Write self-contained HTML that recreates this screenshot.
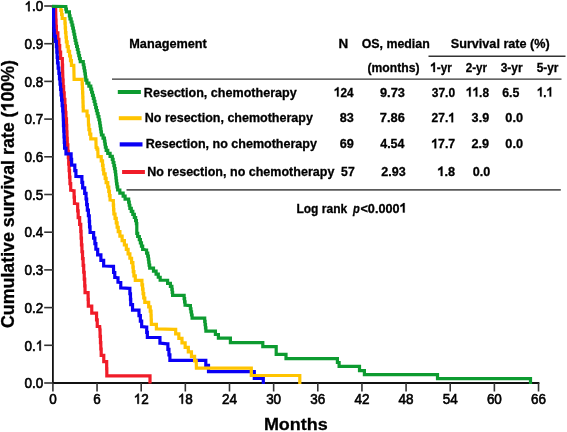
<!DOCTYPE html>
<html><head><meta charset="utf-8"><style>
html,body{margin:0;padding:0;background:#fff;}
svg{display:block;filter:blur(0.35px);}
text{font-family:"Liberation Sans",sans-serif;font-weight:bold;fill:#000;stroke:#000;stroke-width:0.3px;}
text.rg{font-weight:normal;stroke:#000;stroke-width:0.6px;}
</style></head><body>
<svg width="567" height="432" viewBox="0 0 567 432">
<rect width="567" height="432" fill="#fff"/>
<line x1="52.9" y1="5.5" x2="52.9" y2="384" stroke="#111" stroke-width="1.8"/>
<line x1="52" y1="383" x2="539.4" y2="383" stroke="#111" stroke-width="1.8"/>
<line x1="44.2" y1="383.00" x2="53" y2="383.00" stroke="#333" stroke-width="1.6"/>
<line x1="44.2" y1="345.30" x2="53" y2="345.30" stroke="#333" stroke-width="1.6"/>
<line x1="44.2" y1="307.60" x2="53" y2="307.60" stroke="#333" stroke-width="1.6"/>
<line x1="44.2" y1="269.90" x2="53" y2="269.90" stroke="#333" stroke-width="1.6"/>
<line x1="44.2" y1="232.20" x2="53" y2="232.20" stroke="#333" stroke-width="1.6"/>
<line x1="44.2" y1="194.50" x2="53" y2="194.50" stroke="#333" stroke-width="1.6"/>
<line x1="44.2" y1="156.80" x2="53" y2="156.80" stroke="#333" stroke-width="1.6"/>
<line x1="44.2" y1="119.10" x2="53" y2="119.10" stroke="#333" stroke-width="1.6"/>
<line x1="44.2" y1="81.40" x2="53" y2="81.40" stroke="#333" stroke-width="1.6"/>
<line x1="44.2" y1="43.70" x2="53" y2="43.70" stroke="#333" stroke-width="1.6"/>
<line x1="44.2" y1="6.00" x2="53" y2="6.00" stroke="#333" stroke-width="1.6"/>
<line x1="52.90" y1="383" x2="52.90" y2="391.5" stroke="#333" stroke-width="1.6"/>
<line x1="97.05" y1="383" x2="97.05" y2="391.5" stroke="#333" stroke-width="1.6"/>
<line x1="141.20" y1="383" x2="141.20" y2="391.5" stroke="#333" stroke-width="1.6"/>
<line x1="185.34" y1="383" x2="185.34" y2="391.5" stroke="#333" stroke-width="1.6"/>
<line x1="229.49" y1="383" x2="229.49" y2="391.5" stroke="#333" stroke-width="1.6"/>
<line x1="273.64" y1="383" x2="273.64" y2="391.5" stroke="#333" stroke-width="1.6"/>
<line x1="317.79" y1="383" x2="317.79" y2="391.5" stroke="#333" stroke-width="1.6"/>
<line x1="361.94" y1="383" x2="361.94" y2="391.5" stroke="#333" stroke-width="1.6"/>
<line x1="406.08" y1="383" x2="406.08" y2="391.5" stroke="#333" stroke-width="1.6"/>
<line x1="450.23" y1="383" x2="450.23" y2="391.5" stroke="#333" stroke-width="1.6"/>
<line x1="494.38" y1="383" x2="494.38" y2="391.5" stroke="#333" stroke-width="1.6"/>
<line x1="538.53" y1="383" x2="538.53" y2="391.5" stroke="#333" stroke-width="1.6"/>
<line x1="112" y1="79.1" x2="561.5" y2="79.1" stroke="#333" stroke-width="1.4"/>
<line x1="428.5" y1="56.2" x2="565.5" y2="56.2" stroke="#333" stroke-width="1.4"/>
<line x1="126.5" y1="189.9" x2="560.8" y2="189.9" stroke="#5a5a5a" stroke-width="1.7"/>
<rect x="117.8" y="90" width="23.1" height="4" fill="#0d9b30"/>
<rect x="118.8" y="116.2" width="22.8" height="4" fill="#ffc400"/>
<rect x="119.7" y="142.3" width="22.8" height="4.2" fill="#0a00f5"/>
<rect x="122.1" y="170" width="22.8" height="4" fill="#f01c28"/>
<path d="M51.90,6.50 L55.60,6.50 L55.90,20.00 L56.06,20.00 L56.06,26.42 L56.38,26.42 L56.38,32.83 L57.85,32.83 L57.85,39.25 L58.89,39.25 L58.89,45.67 L59.69,45.67 L59.69,52.08 L60.61,52.08 L60.61,58.50 L61.10,58.50 L62.20,58.50 L62.33,58.50 L62.33,65.10 L62.58,65.10 L62.58,71.70 L62.70,71.70 L62.90,80.00 L63.14,80.00 L63.14,86.48 L63.61,86.48 L63.61,92.95 L64.21,92.95 L64.21,99.43 L64.89,99.43 L64.89,105.91 L65.43,105.91 L65.43,112.38 L65.90,112.38 L65.90,118.86 L66.48,118.86 L66.48,125.34 L66.73,125.34 L66.73,131.81 L66.98,131.81 L66.98,138.29 L67.26,138.29 L67.26,144.76 L67.84,144.76 L67.84,151.24 L68.34,151.24 L68.34,157.72 L68.71,157.72 L68.71,164.19 L69.12,164.19 L69.12,170.67 L69.55,170.67 L69.55,177.15 L69.95,177.15 L69.95,183.62 L70.70,183.62 L70.70,190.10 L71.10,190.10 L73.90,190.80 L74.08,190.80 L74.08,197.05 L74.42,197.05 L74.42,203.30 L74.60,203.30 L77.40,204.00 L77.66,204.00 L77.66,210.82 L78.18,210.82 L78.18,217.65 L79.65,217.65 L79.65,224.47 L80.75,224.47 L80.75,231.29 L81.11,231.29 L81.11,238.12 L81.47,238.12 L81.47,244.94 L81.93,244.94 L81.93,251.76 L82.53,251.76 L82.53,258.58 L83.13,258.58 L83.13,265.41 L83.70,265.41 L83.70,272.23 L84.25,272.23 L84.25,279.05 L84.72,279.05 L84.72,285.88 L85.04,285.88 L85.04,292.70 L85.20,292.70 L88.00,292.70 L88.10,292.70 L88.10,299.40 L88.30,299.40 L88.30,306.10 L88.40,306.10 L91.60,306.10 L91.75,306.10 L91.75,313.10 L91.90,313.10 L96.20,313.10 L96.55,313.10 L96.55,319.80 L97.25,319.80 L97.25,326.50 L97.60,326.50 L99.70,326.50 L99.90,330.00 L100.08,330.00 L100.08,336.34 L100.45,336.34 L100.45,342.68 L100.82,342.68 L100.82,349.02 L101.19,349.02 L101.19,355.36 L103.77,355.36 L103.77,361.70 L104.10,361.70 L106.60,361.70 L106.67,361.70 L106.67,368.75 L106.83,368.75 L106.83,375.80 L106.90,375.80 L150.00,375.80 L150.00,383.60" fill="none" stroke="#f01c28" stroke-width="3.2" stroke-linejoin="miter" stroke-linecap="butt"/>
<path d="M51.90,6.50 L53.60,6.50 L53.60,20.00 L53.71,20.00 L53.71,25.35 L53.92,25.35 L53.92,30.69 L54.24,30.69 L54.24,36.04 L55.41,36.04 L55.41,41.39 L56.41,41.39 L56.41,46.74 L56.81,46.74 L56.81,52.08 L57.17,52.08 L57.17,57.43 L57.53,57.43 L57.53,62.78 L58.17,62.78 L58.17,68.12 L58.88,68.12 L58.88,73.47 L59.48,73.47 L59.48,78.82 L60.05,78.82 L60.05,84.16 L60.57,84.16 L60.57,89.51 L61.09,89.51 L61.09,94.86 L61.61,94.86 L61.61,100.21 L62.16,100.21 L62.16,105.55 L62.72,105.55 L62.72,110.90 L63.00,110.90 L63.30,120.00 L63.44,120.00 L63.44,125.63 L63.73,125.63 L63.73,131.26 L64.01,131.26 L64.01,136.89 L64.29,136.89 L64.29,142.52 L64.58,142.52 L64.58,148.15 L65.97,148.15 L65.97,153.78 L71.11,153.78 L71.11,159.41 L71.63,159.41 L71.63,165.04 L74.81,165.04 L74.81,170.67 L75.92,170.67 L75.92,176.30 L76.40,176.30 L81.50,176.70 L81.89,176.70 L81.89,182.28 L82.67,182.28 L82.67,187.86 L84.69,187.86 L84.69,193.44 L86.05,193.44 L86.05,199.02 L86.65,199.02 L86.65,204.61 L87.35,204.61 L87.35,210.19 L88.40,210.19 L88.40,215.77 L89.27,215.77 L89.27,221.35 L89.56,221.35 L89.56,226.93 L90.08,226.93 L90.08,232.51 L93.63,232.51 L93.63,238.09 L94.88,238.09 L94.88,243.68 L95.87,243.68 L95.87,249.26 L97.67,249.26 L97.67,254.84 L100.89,254.84 L100.89,260.42 L103.66,260.42 L103.66,266.00 L104.90,266.00 L113.50,266.30 L113.60,272.50 L114.78,272.50 L114.78,277.40 L115.60,277.40 L117.60,277.80 L118.00,277.80 L118.00,282.20 L118.40,282.20 L120.30,282.60 L120.75,282.60 L120.75,287.80 L121.20,287.80 L129.50,288.30 L129.87,288.30 L129.87,293.77 L130.47,293.77 L130.47,299.24 L130.74,299.24 L130.74,304.71 L132.53,304.71 L132.53,310.19 L138.99,310.19 L138.99,315.66 L140.35,315.66 L140.35,321.13 L141.66,321.13 L141.66,326.60 L142.20,326.60 L146.40,327.10 L146.70,327.10 L146.70,332.30 L147.35,332.30 L147.35,337.50 L147.70,337.50 L159.60,337.50 L159.95,337.50 L159.95,343.10 L160.30,343.10 L167.30,343.80 L167.88,343.80 L167.88,349.33 L168.95,349.33 L168.95,354.87 L169.89,354.87 L169.89,360.40 L171.10,360.40 L205.80,360.40 L205.80,365.30 L208.50,365.30 L208.50,371.70 L254.30,371.70 L254.30,378.30 L263.30,378.30 L263.30,384.00" fill="none" stroke="#0a00f5" stroke-width="3.2" stroke-linejoin="miter" stroke-linecap="butt"/>
<path d="M51.90,6.50 L60.50,6.50 L60.86,6.50 L60.86,10.50 L61.58,10.50 L61.58,14.50 L62.19,14.50 L62.19,18.50 L62.50,18.50 L64.80,18.50 L64.94,18.50 L64.94,23.19 L65.23,23.19 L65.23,27.88 L65.52,27.88 L65.52,32.57 L65.94,32.57 L65.94,37.26 L66.36,37.26 L66.36,41.95 L67.15,41.95 L67.15,46.64 L68.25,46.64 L68.25,51.33 L69.56,51.33 L69.56,56.02 L70.51,56.02 L70.51,60.71 L71.45,60.71 L71.45,65.40 L73.80,65.40 L74.10,79.30 L82.00,79.30 L82.12,79.30 L82.12,83.81 L82.36,83.81 L82.36,88.33 L82.61,88.33 L82.61,92.84 L82.79,92.84 L82.79,97.36 L82.94,97.36 L82.94,101.87 L83.08,101.87 L83.08,106.39 L83.23,106.39 L83.23,110.90 L83.30,110.90 L85.80,111.00 L87.05,111.00 L87.05,115.80 L88.30,115.80 L88.50,125.00 L88.91,125.00 L88.91,129.60 L89.75,129.60 L89.75,134.20 L90.79,134.20 L90.79,138.80 L91.70,138.80 L95.90,138.80 L96.10,147.50 L96.95,147.50 L96.95,149.20 L97.80,149.20 L98.00,156.60 L101.25,156.60 L101.25,160.94 L102.54,160.94 L102.54,165.28 L103.09,165.28 L103.09,169.62 L103.74,169.62 L103.74,173.96 L105.15,173.96 L105.15,178.30 L106.12,178.30 L106.12,182.64 L107.76,182.64 L107.76,186.98 L108.76,186.98 L108.76,191.32 L109.42,191.32 L109.42,195.66 L110.07,195.66 L110.07,200.00 L110.40,200.00 L113.20,200.70 L113.33,200.70 L113.33,205.13 L113.59,205.13 L113.59,209.56 L113.86,209.56 L113.86,213.98 L115.03,213.98 L115.03,218.41 L116.25,218.41 L116.25,222.84 L117.13,222.84 L117.13,227.27 L118.24,227.27 L118.24,231.69 L119.90,231.69 L119.90,236.12 L122.12,236.12 L122.12,240.55 L124.37,240.55 L124.37,244.98 L126.32,244.98 L126.32,249.41 L128.09,249.41 L128.09,253.83 L129.89,253.83 L129.89,258.26 L131.58,258.26 L131.58,262.69 L132.88,262.69 L132.88,267.12 L133.26,267.12 L133.26,271.54 L133.91,271.54 L133.91,275.97 L135.28,275.97 L135.28,280.40 L136.50,280.40 L141.60,280.40 L141.92,280.40 L141.92,284.80 L142.57,284.80 L142.57,289.20 L143.06,289.20 L143.06,293.60 L143.72,293.60 L143.72,298.00 L144.80,298.00 L144.80,302.40 L148.70,302.40 L148.70,306.80 L150.24,306.80 L150.24,311.20 L151.03,311.20 L151.03,315.60 L151.18,315.60 L151.18,320.00 L151.34,320.00 L151.34,324.40 L156.39,324.40 L156.39,328.80 L156.80,328.80 L174.10,329.30 L175.68,329.30 L175.68,333.80 L178.84,333.80 L178.84,338.30 L181.99,338.30 L181.99,342.80 L185.15,342.80 L185.15,347.30 L188.31,347.30 L188.31,351.80 L191.46,351.80 L191.46,356.30 L194.62,356.30 L194.62,360.80 L196.20,360.80 L196.40,368.20 L251.30,368.20 L251.30,375.50 L299.80,375.50 L299.80,384.00" fill="none" stroke="#ffc400" stroke-width="3.2" stroke-linejoin="miter" stroke-linecap="butt"/>
<path d="M51.90,6.40 L65.50,6.50 L65.80,6.50 L65.80,9.15 L66.40,9.15 L66.40,11.80 L66.70,11.80 L69.40,11.80 L69.40,15.90 L70.00,15.90 L70.00,18.95 L71.13,18.95 L71.13,22.01 L71.98,22.01 L71.98,25.06 L72.75,25.06 L72.75,28.12 L73.38,28.12 L73.38,31.17 L74.01,31.17 L74.01,34.23 L74.65,34.23 L74.65,37.28 L75.19,37.28 L75.19,40.34 L75.86,40.34 L75.86,43.39 L76.61,43.39 L76.61,46.44 L77.36,46.44 L77.36,49.50 L78.10,49.50 L78.10,52.55 L78.81,52.55 L78.81,55.61 L79.51,55.61 L79.51,58.66 L80.29,58.66 L80.29,61.72 L83.25,61.72 L83.25,64.77 L83.87,64.77 L83.87,67.83 L84.45,67.83 L84.45,70.88 L84.99,70.88 L84.99,73.93 L85.39,73.93 L85.39,76.99 L85.78,76.99 L85.78,80.04 L86.89,80.04 L86.89,83.10 L88.89,83.10 L88.89,86.15 L90.78,86.15 L90.78,89.21 L91.63,89.21 L91.63,92.26 L92.48,92.26 L92.48,95.31 L93.34,95.31 L93.34,98.37 L94.15,98.37 L94.15,101.42 L94.91,101.42 L94.91,104.48 L95.68,104.48 L95.68,107.53 L96.44,107.53 L96.44,110.59 L97.23,110.59 L97.23,113.64 L98.07,113.64 L98.07,116.70 L98.91,116.70 L98.91,119.75 L99.59,119.75 L99.59,122.80 L100.05,122.80 L100.05,125.86 L100.52,125.86 L100.52,128.91 L100.98,128.91 L100.98,131.97 L101.44,131.97 L101.44,135.02 L103.05,135.02 L103.05,138.08 L104.44,138.08 L104.44,141.13 L104.91,141.13 L104.91,144.19 L105.38,144.19 L105.38,147.24 L106.19,147.24 L106.19,150.29 L107.75,150.29 L107.75,153.35 L110.08,153.35 L110.08,156.40 L112.30,156.40 L112.30,159.46 L113.10,159.46 L113.10,162.51 L113.90,162.51 L113.90,165.57 L114.54,165.57 L114.54,168.62 L115.15,168.62 L115.15,171.67 L115.60,171.67 L115.60,174.73 L115.93,174.73 L115.93,177.78 L116.26,177.78 L116.26,180.84 L116.60,180.84 L116.60,183.89 L117.09,183.89 L117.09,186.95 L117.66,186.95 L117.66,190.00 L119.84,190.00 L119.84,193.06 L123.14,193.06 L123.14,196.11 L125.09,196.11 L125.09,199.16 L128.64,199.16 L128.64,202.22 L129.25,202.22 L129.25,205.27 L129.86,205.27 L129.86,208.33 L131.30,208.33 L131.30,211.38 L132.80,211.38 L132.80,214.44 L134.33,214.44 L134.33,217.49 L135.63,217.49 L135.63,220.55 L136.41,220.55 L136.41,223.60 L136.80,223.60 L136.80,233.30 L137.68,233.30 L137.68,236.50 L139.30,236.50 L139.30,239.70 L140.38,239.70 L140.38,242.90 L141.46,242.90 L141.46,246.10 L142.66,246.10 L142.66,249.30 L143.30,249.30 L146.00,250.00 L146.57,250.00 L146.57,253.03 L147.70,253.03 L147.70,256.05 L148.35,256.05 L148.35,259.08 L148.74,259.08 L148.74,262.11 L149.13,262.11 L149.13,265.13 L149.70,265.13 L149.70,268.16 L153.50,268.16 L153.50,271.19 L156.09,271.19 L156.09,274.21 L158.28,274.21 L158.28,277.24 L160.17,277.24 L160.17,280.27 L167.59,280.27 L167.59,283.29 L170.40,283.29 L170.40,286.32 L171.88,286.32 L171.88,289.35 L172.25,289.35 L172.25,292.37 L172.62,292.37 L172.62,295.40 L172.80,295.40 L183.90,295.40 L184.13,295.40 L184.13,298.63 L184.60,298.63 L184.60,301.87 L185.07,301.87 L185.07,305.10 L185.30,305.10 L190.10,305.60 L190.39,305.60 L190.39,308.73 L190.96,308.73 L190.96,311.85 L191.54,311.85 L191.54,314.98 L192.11,314.98 L192.11,318.10 L192.40,318.10 L204.50,318.10 L204.70,318.10 L204.70,321.38 L205.10,321.38 L205.10,324.65 L205.50,324.65 L205.50,327.93 L205.90,327.93 L205.90,331.20 L206.10,331.20 L215.40,331.20 L215.40,334.50 L218.40,334.50 L218.40,338.20 L230.40,338.20 L230.40,342.60 L262.80,342.60 L262.80,346.60 L276.20,346.60 L276.20,354.40 L286.00,354.40 L286.00,358.60 L337.40,358.60 L337.40,362.50 L339.10,362.50 L339.10,366.40 L359.50,366.40 L359.50,370.70 L364.40,370.70 L364.40,374.70 L437.50,374.70 L437.50,378.60 L530.50,378.60 L530.50,384.00" fill="none" stroke="#0d9b30" stroke-width="3.2" stroke-linejoin="miter" stroke-linecap="butt"/>
<text x="129.25" y="47.60" font-size="13.2" textLength="77.60" lengthAdjust="spacingAndGlyphs">Management</text>
<text x="338.60" y="47.80" font-size="13.2" textLength="9.70" lengthAdjust="spacingAndGlyphs">N</text>
<text x="361.69" y="47.70" font-size="13.2" textLength="68.07" lengthAdjust="spacingAndGlyphs">OS, median</text>
<text x="450.74" y="47.80" font-size="13.2" textLength="98.99" lengthAdjust="spacingAndGlyphs">Survival rate (%)</text>
<text x="367.49" y="71.70" font-size="13.2" textLength="52.01" lengthAdjust="spacingAndGlyphs">(months)</text>
<path transform="translate(430.16,72.00) scale(11.786,-13.200)" d="M0.405 0L0.268 0L0.268 0.515Q0.18 0.45 0.068 0.415L0.068 0.545Q0.23 0.6 0.30 0.716L0.405 0.716Z" stroke="#000" stroke-width="0.023"/>
<text x="436.71" y="72.00" font-size="13.2" textLength="15.07" lengthAdjust="spacingAndGlyphs">-yr</text>
<text x="465.70" y="72.00" font-size="13.2" textLength="21.38" lengthAdjust="spacingAndGlyphs">2-yr</text>
<text x="500.63" y="72.00" font-size="13.2" textLength="21.96" lengthAdjust="spacingAndGlyphs">3-yr</text>
<text x="536.74" y="72.00" font-size="13.2" textLength="21.74" lengthAdjust="spacingAndGlyphs">5-yr</text>
<text x="143.86" y="96.60" font-size="13.2" textLength="152.81" lengthAdjust="spacingAndGlyphs">Resection, chemotherapy</text>
<path transform="translate(333.86,96.60) scale(11.749,-13.200)" d="M0.405 0L0.268 0L0.268 0.515Q0.18 0.45 0.068 0.415L0.068 0.545Q0.23 0.6 0.30 0.716L0.405 0.716Z" stroke="#000" stroke-width="0.023"/>
<text x="340.39" y="96.60" font-size="13.2" textLength="13.07" lengthAdjust="spacingAndGlyphs">24</text>
<text x="379.96" y="96.60" font-size="13.2" textLength="24.91" lengthAdjust="spacingAndGlyphs">9.73</text>
<text x="431.72" y="96.60" font-size="13.2" textLength="23.37" lengthAdjust="spacingAndGlyphs">37.0</text>
<path transform="translate(465.85,96.60) scale(11.930,-13.200)" d="M0.405 0L0.268 0L0.268 0.515Q0.18 0.45 0.068 0.415L0.068 0.545Q0.23 0.6 0.30 0.716L0.405 0.716Z" stroke="#000" stroke-width="0.023"/>
<path transform="translate(472.48,96.60) scale(11.930,-13.200)" d="M0.405 0L0.268 0L0.268 0.515Q0.18 0.45 0.068 0.415L0.068 0.545Q0.23 0.6 0.30 0.716L0.405 0.716Z" stroke="#000" stroke-width="0.023"/>
<text x="479.12" y="96.60" font-size="13.2" textLength="9.95" lengthAdjust="spacingAndGlyphs">.8</text>
<text x="502.15" y="96.60" font-size="13.2" textLength="17.20" lengthAdjust="spacingAndGlyphs">6.5</text>
<path transform="translate(536.98,96.60) scale(11.468,-13.200)" d="M0.405 0L0.268 0L0.268 0.515Q0.18 0.45 0.068 0.415L0.068 0.545Q0.23 0.6 0.30 0.716L0.405 0.716Z" stroke="#000" stroke-width="0.023"/>
<text x="543.36" y="96.60" font-size="13.2" textLength="3.19" lengthAdjust="spacingAndGlyphs">.</text>
<path transform="translate(546.54,96.60) scale(11.468,-13.200)" d="M0.405 0L0.268 0L0.268 0.515Q0.18 0.45 0.068 0.415L0.068 0.545Q0.23 0.6 0.30 0.716L0.405 0.716Z" stroke="#000" stroke-width="0.023"/>
<text x="144.76" y="122.30" font-size="13.2" textLength="168.10" lengthAdjust="spacingAndGlyphs">No resection, chemotherapy</text>
<text x="339.80" y="122.30" font-size="13.2" textLength="14.06" lengthAdjust="spacingAndGlyphs">83</text>
<text x="379.85" y="122.30" font-size="13.2" textLength="25.02" lengthAdjust="spacingAndGlyphs">7.86</text>
<text x="431.58" y="122.30" font-size="13.2" textLength="16.68" lengthAdjust="spacingAndGlyphs">27.</text>
<path transform="translate(448.26,122.30) scale(11.997,-13.200)" d="M0.405 0L0.268 0L0.268 0.515Q0.18 0.45 0.068 0.415L0.068 0.545Q0.23 0.6 0.30 0.716L0.405 0.716Z" stroke="#000" stroke-width="0.023"/>
<text x="471.61" y="122.30" font-size="13.2" textLength="17.56" lengthAdjust="spacingAndGlyphs">3.9</text>
<text x="505.30" y="122.30" font-size="13.2" textLength="17.73" lengthAdjust="spacingAndGlyphs">0.0</text>
<text x="145.66" y="148.30" font-size="13.2" textLength="171.31" lengthAdjust="spacingAndGlyphs">Resection, no chemotherapy</text>
<text x="339.73" y="148.30" font-size="13.2" textLength="14.14" lengthAdjust="spacingAndGlyphs">69</text>
<text x="380.21" y="148.30" font-size="13.2" textLength="24.26" lengthAdjust="spacingAndGlyphs">4.54</text>
<path transform="translate(431.23,148.30) scale(12.287,-13.200)" d="M0.405 0L0.268 0L0.268 0.515Q0.18 0.45 0.068 0.415L0.068 0.545Q0.23 0.6 0.30 0.716L0.405 0.716Z" stroke="#000" stroke-width="0.023"/>
<text x="438.06" y="148.30" font-size="13.2" textLength="17.08" lengthAdjust="spacingAndGlyphs">7.7</text>
<text x="471.46" y="148.30" font-size="13.2" textLength="17.71" lengthAdjust="spacingAndGlyphs">2.9</text>
<text x="505.30" y="148.30" font-size="13.2" textLength="17.73" lengthAdjust="spacingAndGlyphs">0.0</text>
<text x="147.16" y="176.00" font-size="13.2" textLength="187.21" lengthAdjust="spacingAndGlyphs">No resection, no chemotherapy</text>
<text x="341.12" y="176.00" font-size="13.2" textLength="13.61" lengthAdjust="spacingAndGlyphs">57</text>
<text x="381.27" y="176.00" font-size="13.2" textLength="24.39" lengthAdjust="spacingAndGlyphs">2.93</text>
<path transform="translate(437.30,176.00) scale(12.728,-13.200)" d="M0.405 0L0.268 0L0.268 0.515Q0.18 0.45 0.068 0.415L0.068 0.545Q0.23 0.6 0.30 0.716L0.405 0.716Z" stroke="#000" stroke-width="0.023"/>
<text x="444.38" y="176.00" font-size="13.2" textLength="10.61" lengthAdjust="spacingAndGlyphs">.8</text>
<text x="472.80" y="176.00" font-size="13.2" textLength="17.52" lengthAdjust="spacingAndGlyphs">0.0</text>
<text x="296.40" y="212.50" font-size="13.2" textLength="50.79" lengthAdjust="spacingAndGlyphs">Log rank</text>
<text x="353.05" y="212.50" font-size="13.2" textLength="6.81" lengthAdjust="spacingAndGlyphs" font-style="italic">p</text>
<text x="360.47" y="212.50" font-size="13.2" textLength="39.05" lengthAdjust="spacingAndGlyphs">&lt;0.000</text>
<path transform="translate(399.52,212.50) scale(12.651,-13.200)" d="M0.405 0L0.268 0L0.268 0.515Q0.18 0.45 0.068 0.415L0.068 0.545Q0.23 0.6 0.30 0.716L0.405 0.716Z" stroke="#000" stroke-width="0.023"/>
<text x="24.46" y="388.20" font-size="13.9" textLength="18.74" lengthAdjust="spacingAndGlyphs" class="rg">0.0</text>
<text x="24.46" y="350.50" font-size="13.9" textLength="11.24" lengthAdjust="spacingAndGlyphs" class="rg">0.</text>
<path transform="translate(35.70,350.50) scale(13.483,-13.900)" d="M0.373 0L0.285 0L0.285 0.56Q0.2 0.49 0.109 0.446L0.109 0.531Q0.24 0.6 0.31 0.716L0.373 0.716Z" stroke="#000" stroke-width="0.043"/>
<text x="24.46" y="312.80" font-size="13.9" textLength="18.74" lengthAdjust="spacingAndGlyphs" class="rg">0.2</text>
<text x="24.46" y="275.10" font-size="13.9" textLength="18.74" lengthAdjust="spacingAndGlyphs" class="rg">0.3</text>
<text x="24.46" y="237.40" font-size="13.9" textLength="18.74" lengthAdjust="spacingAndGlyphs" class="rg">0.4</text>
<text x="24.46" y="199.70" font-size="13.9" textLength="18.74" lengthAdjust="spacingAndGlyphs" class="rg">0.5</text>
<text x="24.46" y="162.00" font-size="13.9" textLength="18.74" lengthAdjust="spacingAndGlyphs" class="rg">0.6</text>
<text x="24.46" y="124.30" font-size="13.9" textLength="18.74" lengthAdjust="spacingAndGlyphs" class="rg">0.7</text>
<text x="24.46" y="86.60" font-size="13.9" textLength="18.74" lengthAdjust="spacingAndGlyphs" class="rg">0.8</text>
<text x="24.46" y="48.90" font-size="13.9" textLength="18.74" lengthAdjust="spacingAndGlyphs" class="rg">0.9</text>
<path transform="translate(24.46,11.20) scale(13.483,-13.900)" d="M0.373 0L0.285 0L0.285 0.56Q0.2 0.49 0.109 0.446L0.109 0.531Q0.24 0.6 0.31 0.716L0.373 0.716Z" stroke="#000" stroke-width="0.043"/>
<text x="31.96" y="11.20" font-size="13.9" textLength="11.24" lengthAdjust="spacingAndGlyphs" class="rg">.0</text>
<text x="49.15" y="403.70" font-size="13.9" textLength="7.50" lengthAdjust="spacingAndGlyphs" class="rg">0</text>
<text x="93.30" y="403.70" font-size="13.9" textLength="7.50" lengthAdjust="spacingAndGlyphs" class="rg">6</text>
<path transform="translate(133.70,403.70) scale(13.483,-13.900)" d="M0.373 0L0.285 0L0.285 0.56Q0.2 0.49 0.109 0.446L0.109 0.531Q0.24 0.6 0.31 0.716L0.373 0.716Z" stroke="#000" stroke-width="0.043"/>
<text x="141.20" y="403.70" font-size="13.9" textLength="7.50" lengthAdjust="spacingAndGlyphs" class="rg">2</text>
<path transform="translate(177.85,403.70) scale(13.483,-13.900)" d="M0.373 0L0.285 0L0.285 0.56Q0.2 0.49 0.109 0.446L0.109 0.531Q0.24 0.6 0.31 0.716L0.373 0.716Z" stroke="#000" stroke-width="0.043"/>
<text x="185.34" y="403.70" font-size="13.9" textLength="7.50" lengthAdjust="spacingAndGlyphs" class="rg">8</text>
<text x="221.99" y="403.70" font-size="13.9" textLength="15.00" lengthAdjust="spacingAndGlyphs" class="rg">24</text>
<text x="266.14" y="403.70" font-size="13.9" textLength="15.00" lengthAdjust="spacingAndGlyphs" class="rg">30</text>
<text x="310.29" y="403.70" font-size="13.9" textLength="15.00" lengthAdjust="spacingAndGlyphs" class="rg">36</text>
<text x="354.44" y="403.70" font-size="13.9" textLength="15.00" lengthAdjust="spacingAndGlyphs" class="rg">42</text>
<text x="398.59" y="403.70" font-size="13.9" textLength="15.00" lengthAdjust="spacingAndGlyphs" class="rg">48</text>
<text x="442.73" y="403.70" font-size="13.9" textLength="15.00" lengthAdjust="spacingAndGlyphs" class="rg">54</text>
<text x="486.88" y="403.70" font-size="13.9" textLength="15.00" lengthAdjust="spacingAndGlyphs" class="rg">60</text>
<text x="531.03" y="403.70" font-size="13.9" textLength="15.00" lengthAdjust="spacingAndGlyphs" class="rg">66</text>
<text x="263.90" y="430.10" font-size="17.3" textLength="63.84" lengthAdjust="spacingAndGlyphs">Months</text>
<g transform="rotate(-90)"><text x="-328.03" y="13.60" font-size="17.5" textLength="216.50" lengthAdjust="spacingAndGlyphs">Cumulative survival rate (</text>
<path transform="translate(-111.53,13.60) scale(17.787,-17.500)" d="M0.405 0L0.268 0L0.268 0.515Q0.18 0.45 0.068 0.415L0.068 0.545Q0.23 0.6 0.30 0.716L0.405 0.716Z" stroke="#000" stroke-width="0.017"/>
<text x="-101.64" y="13.60" font-size="17.5" textLength="41.52" lengthAdjust="spacingAndGlyphs">00%)</text></g>
</svg>
</body></html>
